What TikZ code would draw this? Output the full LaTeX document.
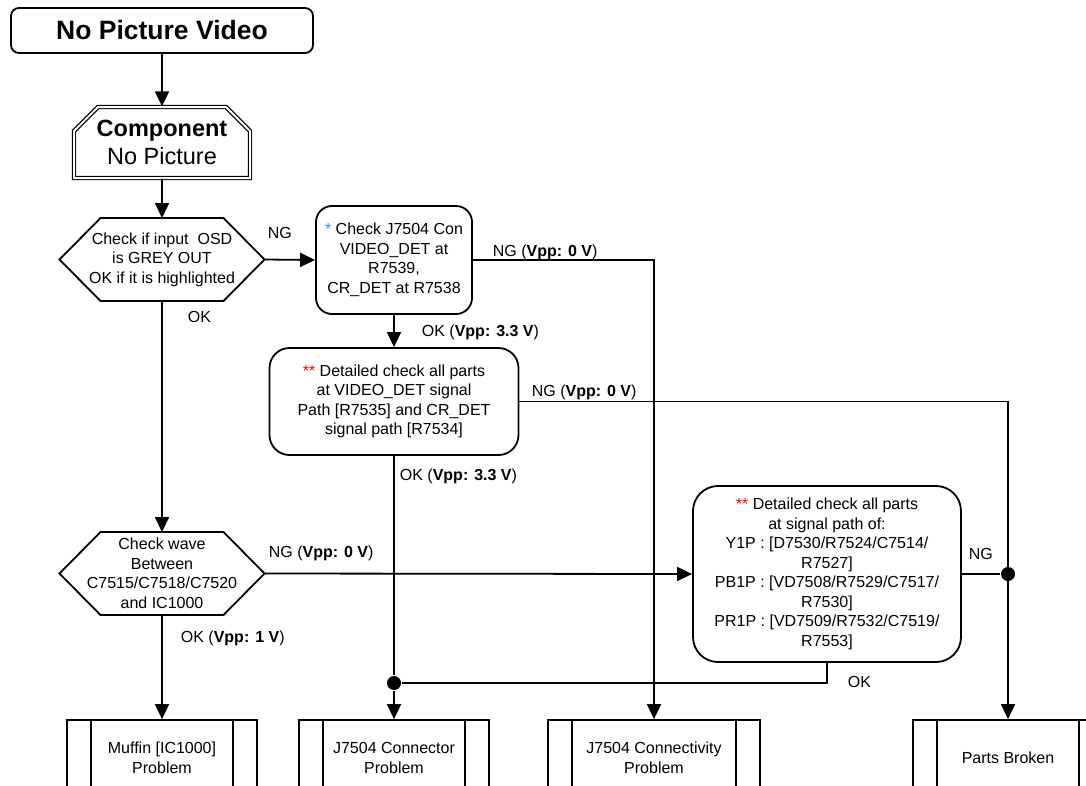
\documentclass[tikz,border=0pt]{standalone}
\usepackage{fontspec}
\setmainfont{Liberation Sans}
\usepackage{tikz}
\usetikzlibrary{positioning,arrows.meta,shapes.misc}
\definecolor{starblue}{RGB}{40,150,230}
\definecolor{starred}{RGB}{255,0,0}
\newcommand{\bstar}{{\color{starblue}*}}
\newcommand{\rstar}{{\color{starred}**}}

\begin{document}
\begin{tikzpicture}[
	x=1pt, y=-1pt,
	line width=1.8pt,
	font=\fontsize{16}{19.5}\selectfont,
	titlebox/.style={
		draw,
		rounded corners=8pt,
		minimum width=302pt,
		minimum height=45pt,
		font=\fontsize{26.5}{30}\selectfont\bfseries
	},
	headbox/.style={
		draw,
		double,
		double distance=2pt,
		line width=1.2pt,
		chamfered rectangle,
		chamfered rectangle corners={north west,north east},
		chamfered rectangle xsep=12pt,
		chamfered rectangle ysep=12pt,
		minimum width=176pt,
		minimum height=71pt,
		align=center,
		inner sep=0pt,
		font=\fontsize{23.5}{28.7}\selectfont
	},
	decision/.style={
		minimum width=205pt,
		minimum height=83pt,
		inner sep=0pt,
		outer sep=0pt,
		align=center,
		append after command={
			\pgfextra{\let\hexnode\tikzlastnode
				\draw ([xshift=41pt]\hexnode.north west) -- ([xshift=-41pt]\hexnode.north east)
					-- (\hexnode.east) -- ([xshift=-41pt]\hexnode.south east)
					-- ([xshift=41pt]\hexnode.south west) -- (\hexnode.west) -- cycle;}
		}
	},
	checkbox/.style={
		draw,
		align=center,
		inner sep=0pt
	},
	endbox/.style={
		draw,
		minimum width=190pt,
		minimum height=76pt,
		align=center,
		path picture={
			\draw ([xshift=24pt]path picture bounding box.north west)
				-- ([xshift=24pt]path picture bounding box.south west);
			\draw ([xshift=-24pt]path picture bounding box.north east)
				-- ([xshift=-24pt]path picture bounding box.south east);
		}
	},
	arr/.style={
		-{Triangle[length=15pt,width=14pt]}
	},
	jdot/.style={
		circle,
		fill,
		inner sep=0pt,
		minimum size=14pt
	},
	lbl/.style={
		anchor=west,
		inner sep=0pt
	}
	]
	\useasboundingbox (0,0) rectangle (1086,785);

	% left column
	\node[titlebox] (title) at (162,30.5) {No Picture Video};
	\node[headbox] (comp) at (162,142.5) {\textbf{Component}\\No Picture};
	\node[decision] (osd) at (162,259.5) {Check if input\ \ OSD\\is GREY OUT\\OK if it is highlighted};
	\node[decision] (wave) at (162,573.5) {Check wave\\Between\\C7515/C7518/C7520\\and IC1000};

	% checks
	\node[checkbox, minimum width=156pt, minimum height=108pt, rounded corners=16pt] (con) at (394,260)
		{\bstar\ Check J7504 Con\\VIDEO\_DET at\\R7539,\\CR\_DET at R7538};
	\node[checkbox, minimum width=249pt, minimum height=107pt, rounded corners=20pt] (det) at (394,401.5)
		{\rstar\ Detailed check all parts\\at VIDEO\_DET signal\\Path [R7535] and CR\_DET\\signal path [R7534]};
	\node[checkbox, minimum width=268pt, minimum height=176pt, rounded corners=25pt] (sig) at (827,574)
		{\rstar\ Detailed check all parts\\at signal path of:\\Y1P : [D7530/R7524/C7514/\\R7527]\\PB1P : [VD7508/R7529/C7517/\\R7530]\\PR1P : [VD7509/R7532/C7519/\\R7553]};

	% results
	\node[endbox] (muffin) at (162,758) {Muffin [IC1000]\\Problem};
	\node[endbox] (conn) at (394,758) {J7504 Connector\\Problem};
	\node[endbox, minimum width=212pt] (cty) at (654,758) {J7504 Connectivity\\Problem};
	\node[endbox] (broken) at (1008,758) {Parts Broken};

	\node[jdot] (j1) at (394,683) {};
	\node[jdot] (j2) at (1008,574) {};

	% connectors
	\draw[arr] (title) -- (comp);
	\draw[arr] (comp) -- (osd.north);
	\draw[arr] (osd.east) -- (con.west);
	\draw[arr] (con.east) -| (cty.north);
	\draw[arr] (con) -- (det);
	\draw[arr] (det.east) -| (broken.north);
	\draw[arr] (osd.south) -- (wave.north);
	\draw[arr] (wave.east) -- (sig.west);
	\draw[arr] (wave.south) -- (muffin.north);
	\draw (det.south) -- (j1);
	\draw[arr] (j1) -- (conn.north);
	\draw (sig.south) |- (j1);
	\draw (sig.east) -- (j2);

	% labels
	\node[lbl] (ng1) at (267,233) {NG};
	\node[lbl] (ng2) at (492,252) {NG (\textbf{Vpp: 0 V})};
	\node[lbl] (ok1) at (421,332) {OK (\textbf{Vpp: 3.3 V})};
	\node[lbl] (ng3) at (531,392) {NG (\textbf{Vpp: 0 V})};
	\node[lbl] (ok2) at (399,476) {OK (\textbf{Vpp: 3.3 V})};
	\node[lbl] (ok3) at (187,317) {OK};
	\node[lbl] (ng4) at (268,553) {NG (\textbf{Vpp: 0 V})};
	\node[lbl] (ok4) at (180,638) {OK (\textbf{Vpp: 1 V})};
	\node[lbl] (ng5) at (968,554) {NG};
	\node[lbl] (ok5) at (847,682) {OK};
\end{tikzpicture}
\end{document}
